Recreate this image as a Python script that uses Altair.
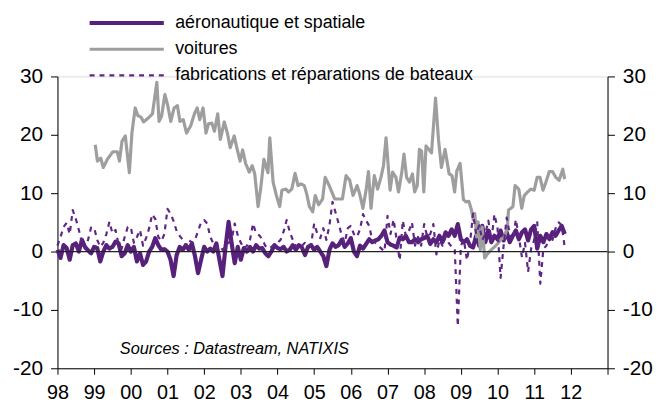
import altair as alt
import pandas as pd

SERIES = ["aéronautique et spatiale", "voitures", "fabrications et réparations de bateaux"]
COLORS = ["#57207a", "#9e9e9e", "#5f2686"]
WIDTHS = [4.2, 2.2, 3.0]
DASHES = [[1, 0], [1, 0], [5, 5]]

# aéronautique et spatiale : monthly, from Jan 1998
aero_start = 1998.0
aero = [0.3, -1.1, 1.1, 0.6, -1.4, 1.1, 1.4, 0.0, 2.0, 0.8, 0.2,
        -0.3, 0.8, 0.6, -1.7, 0.0, 1.1, 0.5, 0.8, 1.7, 1.4,
        -0.8, -0.3, 1.1, 0.0, 0.8, -1.7, -0.3, -2.3, -1.7, 0.0,
        0.8, 2.3, 1.1, 0.3, 0.4, 0.0, -1.4, -4.2, -0.6, 0.8,
        0.3, 1.1, 0.3, 1.4, -0.8, -3.7, -1.4, 0.8, 0.0, 0.5,
        0.0, 1.4, -1.4, -4.2, 0.8, 5.1, 1.4, -2.0, 0.8, -1.4,
        0.6, 0.0, 0.8, 0.0, 1.1, 0.5, 0.6, -0.3, -0.8, 0.0, 1.1,
        0.6, 0.4, 0.8, 0.0, 0.3, 1.1, 0.3, 1.1, 0.7, -0.6, 0.8,
        1.1, 0.3, 0.8, 0.0, -0.8, -2.5, 0.3, 1.4, 0.8, 1.1,
        2.0, 0.8, 1.4, 2.3, 0.0, -0.8,
        1.0, 0.5, 1.3, 2.1, 1.6, 1.9, 2.1, 2.7, 3.6, 1.6, 1.2,
        1.0, 0.7, 2.4, 2.1, 2.7, 1.6, 1.6, 2.1, 1.6, 2.1, 2.3,
        2.7, 1.3, 2.1, 1.6, 2.7, 1.6, 3.3, 2.7, 3.8, 2.7,
        4.7, 2.1, 1.6, 2.1, 1.0, 0.7, 2.7, 1.0, 4.4, 1.6,
        3.6, 1.6, 2.7, 2.1, 3.6, 1.9, 3.3, 1.6, 2.7, 3.6,
        2.1, 3.3, 3.8, 1.9, 3.8, 4.4, 0.5, 2.7, 1.6, 3.0,
        2.1, 3.3, 2.7, 3.6, 4.4, 3.0]

# voitures : dates (years) and values
cars_t = [1999.03, 1999.09, 1999.18, 1999.25, 1999.36, 1999.51, 1999.63, 1999.69, 1999.76, 1999.85,
          1999.96, 2000.03, 2000.12, 2000.19, 2000.28, 2000.35, 2000.48, 2000.59, 2000.71, 2000.77,
          2000.84, 2000.93, 2001.00, 2001.09, 2001.18, 2001.27, 2001.34, 2001.43, 2001.52, 2001.63,
          2001.74, 2001.81, 2001.88, 2001.97, 2002.05, 2002.12, 2002.21, 2002.28, 2002.37, 2002.44,
          2002.55, 2002.64, 2002.71, 2002.82, 2002.89, 2002.98, 2003.05, 2003.13, 2003.23, 2003.31,
          2003.38, 2003.47, 2003.54, 2003.63, 2003.74, 2003.79, 2003.88, 2003.97, 2004.06, 2004.12,
          2004.23, 2004.30, 2004.39, 2004.48, 2004.56, 2004.64, 2004.73, 2004.80, 2004.87, 2004.96,
          2005.03, 2005.12, 2005.23, 2005.30, 2005.41, 2005.56, 2005.65, 2005.77, 2005.87, 2005.97,
          2006.06, 2006.17, 2006.24, 2006.33, 2006.42, 2006.48, 2006.55, 2006.64, 2006.73, 2006.82,
          2006.89, 2006.96, 2007.03, 2007.07, 2007.14, 2007.23, 2007.30, 2007.39, 2007.45, 2007.52,
          2007.60, 2007.68, 2007.74, 2007.81, 2007.87, 2007.93, 2007.99, 2008.05, 2008.20, 2008.31,
          2008.39, 2008.47, 2008.57, 2008.68, 2008.76, 2008.83, 2008.89, 2008.98, 2009.07, 2009.14,
          2009.22, 2009.29, 2009.34, 2009.38, 2009.43, 2009.47, 2009.53, 2009.58, 2009.65, 2009.74,
          2009.83, 2009.92, 2010.01, 2010.10, 2010.19, 2010.27, 2010.30, 2010.42, 2010.48, 2010.58,
          2010.66, 2010.73, 2010.82, 2010.91, 2011.00, 2011.08, 2011.16, 2011.24, 2011.32, 2011.41,
          2011.50, 2011.59, 2011.68, 2011.78, 2011.83]
cars = [18.3, 15.5, 16.0, 14.4, 15.8, 17.1, 17.1, 15.5, 18.9, 19.8,
        13.5, 20.3, 24.6, 23.3, 23.0, 22.2, 22.9, 23.6, 29.0, 22.3,
        23.2, 26.9, 25.2, 22.3, 24.6, 25.0, 22.3, 22.6, 20.3, 21.5,
        23.7, 24.6, 22.6, 24.6, 20.3, 21.9, 22.0, 20.6, 23.6, 19.2,
        22.2, 20.1, 17.8, 19.8, 17.8, 15.5, 17.4, 15.1, 13.6, 14.7,
        13.3, 7.7, 10.7, 15.8, 13.5, 19.5, 11.9, 9.6, 7.7, 10.5,
        10.7, 10.2, 10.7, 13.4, 11.3, 11.6, 11.3, 9.8, 7.7, 6.8,
        9.6, 8.0, 9.0, 12.7, 11.3, 9.0, 9.0, 9.0, 13.0, 12.2,
        9.6, 11.3, 9.9, 7.4, 10.7, 13.7, 7.4, 13.0, 10.7, 12.7,
        14.7, 19.5, 13.8, 10.5, 13.6, 12.7, 10.2, 13.6, 16.7, 12.7,
        11.9, 13.3, 10.2, 11.3, 17.5, 17.2, 10.2, 18.1, 16.9, 26.3,
        19.2, 14.4, 17.5, 13.3, 13.0, 10.2, 13.8, 15.1, 8.9, 8.5,
        8.6, 7.1, 5.4, 6.5, 2.5, 5.1, 0.3, 4.2, -1.1, -0.3,
        0.3, 0.8, 1.4, 2.1, 2.5, 4.2, 7.1, 7.7, 11.3, 10.7,
        7.4, 9.6, 10.2, 10.7, 10.5, 12.7, 12.7, 10.5, 11.9, 13.7,
        13.7, 12.7, 12.2, 14.1, 12.4]

# fabrications et réparations de bateaux : monthly, from Jan 1998
boats_start = 1998.0
boats = [1.0, 2.5, 4.2, 4.9, 3.0, 7.1, 5.6, 3.7, 1.5, 0.5, 2.0, 4.1,
         4.1, 2.0, 0.8, 1.5, 3.0, 5.1, 3.1, 3.7, 1.2, 0.5, 2.5, 4.2,
         4.2, 1.5, 2.5, 3.7, 1.0, 2.3, 4.0, 6.4, 5.6, 2.5, 1.8, 3.0,
         7.3, 6.5, 5.2, 3.5, 2.7, 2.0, 1.0, 2.0, 1.5, 2.0, 3.5, 5.0,
         5.4, 4.8, 2.5, 1.4, 0.5, 1.0, 0.3, 0.8, 1.5, 2.0, 4.8, 2.8,
         1.5, 0.5, 1.0, 2.0, 4.8, 3.1, 2.8, 2.1, 1.0, 0.5, 0.8, 1.2,
         1.5, 2.0, 3.4, 5.4, 3.4, 2.0, 1.0, 0.5, 1.0, 1.5, 0.8, 1.2,
         4.8, 3.1, 2.3, 4.0, 2.0, 4.5, 8.5, 6.7, 4.8, 2.8, 1.5, 4.0,
         4.4, 3.0, 2.5, 3.8, 6.4, 5.3, 4.4, 2.0, 1.5, 1.0, 0.5, 0.0,
         6.1, 3.0, 5.5, 2.0, -1.5, 5.3, 2.7, 3.5, 5.0, 1.0, 2.5, 1.0,
         4.7, 2.5, 3.0, 4.7, -0.5, 2.0, 1.0, 2.5, 1.5, 0.8, 0.5, -12.8,
         1.0, 2.0, -1.5, 1.5, 6.5, 3.0, 4.5, 2.0, 3.0, 5.3, 2.0, 6.4,
         4.0, -4.5, 1.0, 5.8, 3.0, 2.0, 5.5, 2.5, -1.0, 1.5, -3.5, 0.5,
         2.0, 5.0, -5.5, 0.5, 1.0, 3.0, 2.0, 4.0, 5.0, 4.5, 0.7]

Y_TICKS = [-20, -10, 0, 10, 20, 30]
X_TICKS = list(range(1998, 2014))
SOURCE = "Sources : Datastream, NATIXIS"
FONT = "Liberation Sans"

rows = []
for i, v in enumerate(aero):
    rows.append({"t": aero_start + i / 12, "v": v, "s": SERIES[0]})
for t, v in zip(cars_t, cars):
    rows.append({"t": t, "v": v, "s": SERIES[1]})
for i, v in enumerate(boats):
    rows.append({"t": boats_start + i / 12, "v": v, "s": SERIES[2]})
df = pd.DataFrame(rows)

xscale = alt.Scale(domain=[1998, 2013], nice=False, zero=False)
yscale = alt.Scale(domain=[-20, 30], nice=False, zero=False)

x_axis = alt.Axis(values=X_TICKS, title=None, grid=False, domainColor="black", tickColor="black",
                  tickSize=6, labelFontSize=20, labelFont=FONT, labelColor="black", labelPadding=9,
                  labelFlush=False, labelOverlap=False,
                  labelExpr="datum.value < 2013 ? substring(toString(datum.value), 2, 4) : ''")
y_left = alt.Axis(values=Y_TICKS, title=None, grid=False, domainColor="black", tickColor="black",
                  tickSize=7, labelFontSize=21, labelFont=FONT, labelColor="black", labelPadding=8,
                  labelFlush=False, labelExpr="toString(datum.value)", orient="left")
y_right = alt.Axis(values=Y_TICKS, title=None, grid=False, domainColor="black", tickColor="black",
                   tickSize=7, labelFontSize=21, labelFont=FONT, labelColor="black", labelPadding=8,
                   labelFlush=False, labelExpr="toString(datum.value)", orient="right")

leg = alt.Legend(orient="none", legendX=60, legendY=-64, title=None,
                 symbolType="M-5,0H5", symbolSize=225, labelFontSize=18, labelFont=FONT,
                 labelColor="black", labelLimit=500, rowPadding=8, labelOffset=39, padding=0)

base = alt.Chart(df).mark_line(strokeCap="butt", strokeJoin="round").encode(
    x=alt.X("t:Q", scale=xscale, axis=x_axis),
    y=alt.Y("v:Q", scale=yscale, axis=y_left),
    color=alt.Color("s:N", scale=alt.Scale(domain=SERIES, range=COLORS), legend=leg),
    strokeWidth=alt.StrokeWidth("s:N", scale=alt.Scale(domain=SERIES, range=WIDTHS), legend=leg),
    strokeDash=alt.StrokeDash("s:N", scale=alt.Scale(domain=SERIES, range=DASHES), legend=leg),
    order="t:Q",
)

layers = [base.transform_filter(alt.datum.s == s) for s in SERIES]

zero = alt.Chart(pd.DataFrame({"y": [0]})).mark_rule(color="#222222", strokeWidth=1.2).encode(
    y=alt.Y("y:Q", scale=yscale, axis=y_left)
)

note = alt.Chart(pd.DataFrame({"t": [1999.70], "v": [-16.7], "txt": [SOURCE]})).mark_text(
    align="left", baseline="middle", font=FONT, fontSize=16.5, fontStyle="italic", color="black"
).encode(x=alt.X("t:Q", scale=xscale, axis=x_axis), y=alt.Y("v:Q", scale=yscale, axis=y_left), text="txt:N")

left = alt.layer(*layers, zero, note)

right = alt.Chart(pd.DataFrame({"y": [0]})).mark_point(opacity=0).encode(
    y=alt.Y("y:Q", scale=yscale, axis=y_right)
)

chart = alt.layer(left, right).resolve_scale(y="independent").properties(
    width=556, height=295,
    autosize=alt.AutoSizeParams(type="none"),
    padding={"left": 50, "top": 67, "right": 50, "bottom": 40},
).configure_view(stroke=None).configure(background="white")

chart.save("out.html", embed_options={"renderer": "svg", "actions": False})
